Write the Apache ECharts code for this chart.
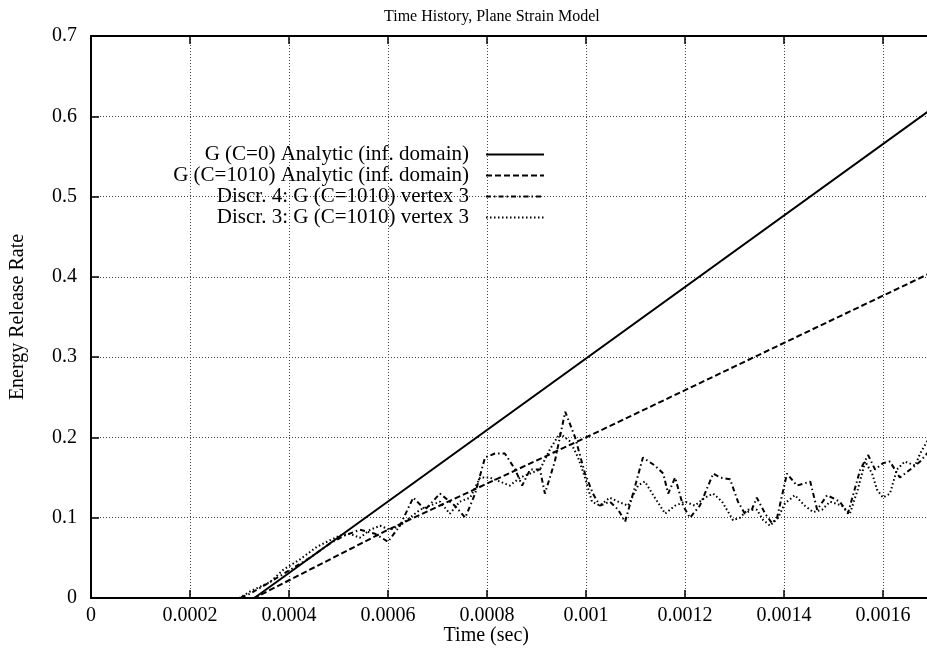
<!DOCTYPE html>
<html>
<head>
<meta charset="utf-8">
<script src="https://cdn.jsdelivr.net/npm/echarts@6/dist/echarts.min.js"></script>
<style>
html,body{margin:0;padding:0;background:#fff;}
#chart{width:927px;height:654px;}
</style>
</head>
<body>
<div id="chart"></div>
<script>
// ---- data ----
const seriesNames = [
  'G (C=0) Analytic (inf. domain)',
  'G (C=1010) Analytic (inf. domain)',
  'Discr. 4: G (C=1010) vertex 3',
  'Discr. 3: G (C=1010) vertex 3'
];
const xTickLabels = ['0','0.0002','0.0004','0.0006','0.0008','0.001','0.0012','0.0014','0.0016','0.0018'];
const yTickLabels = ['0','0.1','0.2','0.3','0.4','0.5','0.6','0.7'];

const g0Time  = [0, 0.00033, 0.0017];
const g0Value = [0, 0, 0.61];

const g1Time  = [0, 0.00033, 0.0006, 0.001, 0.0017];
const g1Value = [0, 0, 0.085, 0.2, 0.406];

const d4Time = [0, 0.0003, 0.00032, 0.000362, 0.000402, 0.000442, 0.000483, 0.000513, 0.000543, 0.000574,
  0.0006, 0.000624, 0.000651, 0.000675, 0.000705, 0.000735, 0.000756, 0.000776, 0.000796, 0.000816,
  0.000836, 0.000857, 0.000871, 0.000887, 0.000907, 0.000917, 0.000937, 0.000958, 0.000978, 0.000998,
  0.001014, 0.001028, 0.001048, 0.001065, 0.001079, 0.001095, 0.001115, 0.001139, 0.001156, 0.001166,
  0.00118, 0.001196, 0.00121, 0.00123, 0.001257, 0.001271, 0.001291, 0.001307, 0.001321, 0.001335,
  0.001345, 0.001362, 0.001376, 0.001386, 0.001406, 0.001426, 0.001453, 0.001467, 0.001487, 0.001513,
  0.001529, 0.001554, 0.00157, 0.001584, 0.0016, 0.001614, 0.001634, 0.001655, 0.001675, 0.001689, 0.0017];
const d4Value = [0, 0, 0.005, 0.02, 0.035, 0.05, 0.068, 0.078, 0.085, 0.08,
  0.07, 0.09, 0.125, 0.11, 0.13, 0.115, 0.10, 0.13, 0.175, 0.18,
  0.18, 0.16, 0.14, 0.16, 0.16, 0.13, 0.17, 0.232, 0.20, 0.155,
  0.13, 0.115, 0.12, 0.11, 0.095, 0.13, 0.175, 0.165, 0.155, 0.13,
  0.15, 0.115, 0.10, 0.115, 0.155, 0.15, 0.148, 0.12, 0.105, 0.11,
  0.125, 0.105, 0.093, 0.10, 0.155, 0.14, 0.145, 0.11, 0.128, 0.12,
  0.105, 0.16, 0.178, 0.16, 0.168, 0.17, 0.15, 0.16, 0.17, 0.18, 0.185];

const d3Time = [0, 0.0003, 0.000321, 0.000362, 0.000388, 0.000422, 0.000457, 0.000483, 0.000503, 0.000523,
  0.000543, 0.000564, 0.000584, 0.000604, 0.000624, 0.000644, 0.000665, 0.000685, 0.000705, 0.000725,
  0.000745, 0.000766, 0.000786, 0.000806, 0.000826, 0.000846, 0.000867, 0.000887, 0.000907, 0.000927,
  0.000947, 0.000968, 0.000984, 0.000998, 0.001012, 0.001028, 0.001048, 0.001065, 0.001085, 0.001105,
  0.001119, 0.001139, 0.00116, 0.00118, 0.0012, 0.00122, 0.00124, 0.001257, 0.001275, 0.001297,
  0.001311, 0.001327, 0.001345, 0.001358, 0.001372, 0.001388, 0.001402, 0.001422, 0.001442, 0.001459,
  0.001477, 0.001493, 0.001517, 0.001533, 0.001549, 0.001564, 0.001578, 0.001588, 0.0016, 0.001614,
  0.001628, 0.001644, 0.001665, 0.001675, 0.001689, 0.0017];
const d3Value = [0, 0, 0.008, 0.02, 0.035, 0.048, 0.064, 0.072, 0.078, 0.08,
  0.075, 0.085, 0.09, 0.085, 0.09, 0.10, 0.11, 0.115, 0.12, 0.105,
  0.12, 0.125, 0.15, 0.15, 0.145, 0.14, 0.15, 0.155, 0.16, 0.185,
  0.205, 0.195, 0.175, 0.15, 0.12, 0.115, 0.125, 0.12, 0.115, 0.14,
  0.145, 0.125, 0.105, 0.115, 0.12, 0.115, 0.125, 0.13, 0.12, 0.097,
  0.10, 0.11, 0.11, 0.097, 0.09, 0.10, 0.118, 0.128, 0.115, 0.107,
  0.11, 0.12, 0.115, 0.105, 0.135, 0.17, 0.155, 0.135, 0.125, 0.13,
  0.16, 0.17, 0.165, 0.18, 0.195, 0.2];

// ---- chart ----
const zip = (a, b) => a.map((t, i) => [t, b[i]]);
const FONT = '"Liberation Serif", "Times New Roman", serif';
const chart = echarts.init(document.getElementById('chart'), null, {renderer: 'canvas'});

const lineStyles = [
  {color: '#000', width: 2, type: 'solid'},
  {color: '#000', width: 2, type: [6, 3]},
  {color: '#000', width: 2, type: [5, 3, 1.5, 3]},
  {color: '#000', width: 2, type: [1.5, 2.5]}
];
const datas = [zip(g0Time, g0Value), zip(g1Time, g1Value), zip(d4Time, d4Value), zip(d3Time, d3Value)];

const legendTops = [144, 165, 186, 207];
const legends = seriesNames.map((n, i) => ({
  data: [n],
  right: 382,
  top: legendTops[i],
  align: 'right',
  orient: 'vertical',
  itemWidth: 58,
  itemHeight: 14,
  itemGap: 0,
  padding: 0,
  selectedMode: false,
  itemStyle: {opacity: 0},
  textStyle: {fontFamily: FONT, fontSize: 21, color: '#000', padding: [0, 12, 0, 0]}
}));

const axisCommon = {
  type: 'value',
  axisLine: {show: true, lineStyle: {color: '#000', width: 2}},
  axisTick: {show: true, inside: true, length: 8, lineStyle: {color: '#000', width: 1.5}},
};

chart.setOption({
  animation: false,
  backgroundColor: '#fff',
  title: {
    text: 'Time History, Plane Strain Model',
    left: 379, top: 4,
    textStyle: {fontFamily: FONT, fontSize: 16, fontWeight: 'normal', color: '#000'}
  },
  legend: legends,
  grid: {left: 91, top: 36, right: -5.5, bottom: 56, containLabel: false, outerBoundsMode: 'none'},
  xAxis: [
    Object.assign({}, axisCommon, {
      position: 'bottom',
      min: 0, max: 0.0017, interval: 0.0002,
      name: 'Time (sec)', nameLocation: 'middle', nameGap: 28, nameMoveOverlap: false,
      nameTextStyle: {fontFamily: FONT, fontSize: 20, color: '#000', padding: [0, 51, 0, 0]},
      axisLabel: {fontFamily: FONT, fontSize: 20, color: '#000', margin: 8,
        formatter: (v, i) => xTickLabels[i]},
      splitLine: {show: true, lineStyle: {color: '#444', width: 1, type: [1, 2]}}
    }),
    Object.assign({}, axisCommon, {
      position: 'top',
      min: 0, max: 0.0017, interval: 0.0002,
      axisLabel: {show: false},
      splitLine: {show: false}
    })
  ],
  yAxis: [
    Object.assign({}, axisCommon, {
      min: 0, max: 0.7, interval: 0.1,
      name: 'Energy Release Rate', nameLocation: 'middle', nameGap: 63, nameMoveOverlap: false,
      nameTextStyle: {fontFamily: FONT, fontSize: 20, color: '#000'},
      axisLabel: {fontFamily: FONT, fontSize: 20, color: '#000', margin: 14,
        formatter: (v, i) => yTickLabels[i]},
      splitLine: {show: true, lineStyle: {color: '#444', width: 1, type: [1, 2]}}
    })
  ],
  series: seriesNames.map((n, i) => ({
    name: n,
    type: 'line',
    data: datas[i],
    showSymbol: false,
    symbol: 'none',
    smooth: false,
    lineStyle: lineStyles[i],
    itemStyle: {color: '#000'},
    z: 10 - i
  }))
});
</script>
</body>
</html>
